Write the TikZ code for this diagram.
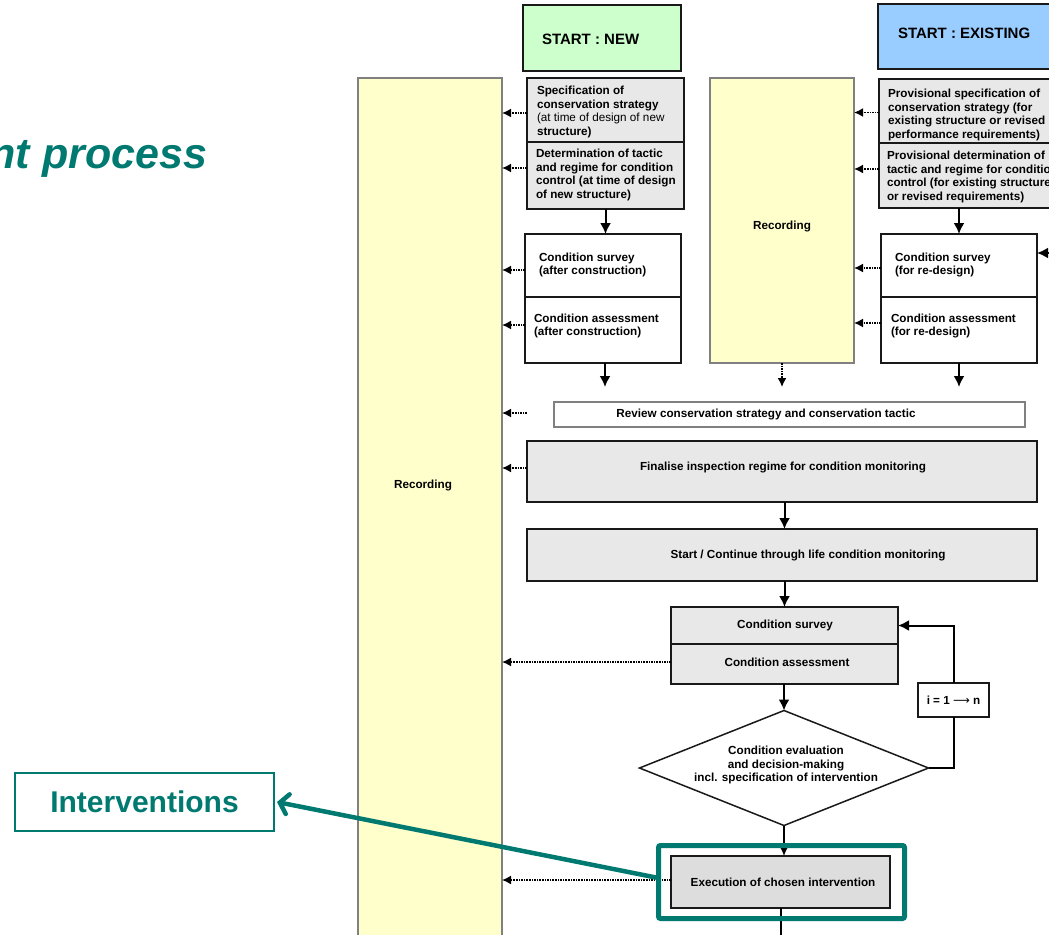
\documentclass[tikz,border=0pt]{standalone}
\usepackage{fontspec}
\setmainfont{Liberation Sans}
\newfontfamily\symfont{DejaVu Sans}
\usetikzlibrary{arrows.meta,shapes.geometric}
\definecolor{recfill}{RGB}{255,255,204}
\definecolor{recline}{RGB}{128,128,128}
\definecolor{boxgray}{RGB}{232,232,232}
\definecolor{execgray}{RGB}{221,221,221}
\definecolor{newgreen}{RGB}{204,255,204}
\definecolor{exblue}{RGB}{153,204,255}
\definecolor{tealc}{RGB}{0,122,112}
\begin{document}
\begin{tikzpicture}[x=1pt,y=-1pt,
  every node/.style={inner sep=0pt, outer sep=0pt},
  body/.style={font=\fontsize{11.7}{13.8}\selectfont\bfseries, text=black},
  txt/.style={body, align=left, anchor=west},
  ctxt/.style={body, align=center},
  rect/.style 2 args={rectangle, anchor=north west, minimum width=#1, minimum height=#2},
  recbox/.style={draw=recline, fill=recfill, line width=1.2pt},
  heavybox/.style={draw=black!90, fill=boxgray, line width=2.2pt},
  plainbox/.style={draw=black!90, fill=white, line width=1.8pt},
  thinbox/.style={draw=recline, fill=white, line width=1.2pt},
  startbox/.style={draw=black!90, line width=2.2pt},
  arr/.style={draw=black, line width=2pt, -{Latex[length=11pt,width=11pt]}},
  darr/.style={draw=black, line width=1.6pt, densely dotted, -{Latex[length=9pt,width=9pt]}},
  flow/.style={draw=black, line width=2pt}
]
\useasboundingbox (0,0) rectangle (1049,934);
\clip (0,0) rectangle (1049,934);

% heading
\node[font=\fontsize{43}{48}\selectfont\bfseries\itshape, text=tealc, anchor=base east] (title) at (207,168) {nt process};

% recording columns
\node[rect={144}{900}, recbox] (recL) at (358,78) {};
\node[body] (recLt) at (423,485) {Recording};
\node[rect={144}{285}, recbox] (recM) at (710,78) {};
\node[body] (recMt) at (782,226) {Recording};

% start boxes
\node[rect={158}{66}, startbox, fill=newgreen] (startN) at (523,5) {};
\node[font=\fontsize{15}{18}\selectfont\bfseries, anchor=west] (startNt) at (542,39) {START : NEW};
\node[rect={200}{65}, startbox, fill=exblue] (startE) at (878,4) {};
\node[font=\fontsize{15}{18}\selectfont\bfseries, anchor=west] (startEt) at (898,33) {START : EXISTING};

% new structure column
\node[rect={157}{64}, heavybox] (spec) at (527,78) {};
\node[txt] (spect) at (537,112) {Specification of\\conservation strategy\\\mdseries (at time of design of new\\structure)};
\node[rect={157}{67}, heavybox] (det) at (527,142) {};
\node[txt] (dett) at (536,175) {Determination of tactic\\and regime for condition\\control (at time of design\\of new structure)};
\node[rect={156}{63}, plainbox] (cs1) at (525,234) {};
\node[txt] (cs1t) at (539,265) {Condition survey\\(after construction)};
\node[rect={156}{66}, plainbox] (ca1) at (525,297) {};
\node[txt] (ca1t) at (534,326) {Condition assessment\\(after construction)};

% existing structure column
\node[rect={200}{64}, heavybox] (exspec) at (879,79) {};
\node[txt] (exspect) at (888,115) {Provisional specification of\\conservation strategy (for\\existing structure or revised\\performance requirements)};
\node[rect={200}{65}, heavybox] (exdet) at (879,143) {};
\node[txt] (exdett) at (887,177) {Provisional determination of\\tactic and regime for condition\\control (for existing structure\\or revised requirements)};
\node[rect={156}{63}, plainbox] (cs2) at (881,234) {};
\node[txt] (cs2t) at (895,265) {Condition survey\\(for re-design)};
\node[rect={156}{66}, plainbox] (ca2) at (881,297) {};
\node[txt] (ca2t) at (891,326) {Condition assessment\\(for re-design)};

% common process
\node[rect={471}{25}, thinbox] (rev) at (554,402) {};
\node[ctxt] (revt) at (766,414) {Review conservation strategy and conservation tactic};
\node[rect={510}{61}, heavybox] (fin) at (527,441) {};
\node[ctxt] (fint) at (783,467) {Finalise inspection regime for condition monitoring};
\node[rect={510}{52}, heavybox] (sc) at (527,529) {};
\node[ctxt] (sct) at (808,555) {Start / Continue through life condition monitoring};
\node[rect={227}{37}, heavybox] (cs3) at (671,607) {};
\node[ctxt] (cs3t) at (785,625) {Condition survey};
\node[rect={227}{40}, heavybox] (ca3) at (671,644) {};
\node[ctxt] (ca3t) at (787,662) {Condition assessment};
\node[diamond, draw=black!90, fill=white, line width=1.5pt, minimum width=289pt, minimum height=115pt] (dia) at (784,768) {};
\node[ctxt] (diat) at (786,765) {Condition evaluation\\and decision-making\\incl. specification of intervention};
\node[rect={71}{34}, draw=black!90, fill=white, line width=1.5pt] (ibox) at (918,683) {};
\node[ctxt] (iboxt) at (953.5,700) {i = 1 {\symfont\mdseries ⟶} n};
\node[rect={219}{52}, heavybox, fill=execgray] (ex) at (671,856) {};
\node[ctxt] (ext) at (783,882) {Execution of chosen intervention};

% free ends of connectors
\coordinate (endN) at (605,387);
\coordinate (endE) at (959,387);
\coordinate (endM) at (782,387);
\coordinate (feed) at (1060,253);
\coordinate (endX) at (781,945);

% main flow
\draw[arr] (det.south) -- (det.south |- cs1.north);
\draw[arr] (ca1.south -| endN) -- (endN);
\draw[arr] (cs2.north |- exdet.south) -- (cs2.north);
\draw[arr] (ca2.south) -- (endE);
\draw[arr] (feed) -- (feed -| cs2.east);
\draw[darr] (recM.south -| endM) -- (endM);
\draw[arr] (cs3.north |- fin.south) -- (cs3.north |- sc.north);
\draw[arr] (cs3.north |- sc.south) -- (cs3.north);
\draw[arr] (ca3.south -| dia.north) -- (dia.north);
\draw[arr] (dia.south) -- (dia.south |- ex.north);
\draw[flow] (ex.south -| endX) -- (endX);

% iteration loop
\draw[flow] (dia.east) -| (ibox.south);
\draw[arr] (ibox.north) |- (cs3.east);

% records passed to the recording columns
\draw[darr] ([yshift=-3pt]spec.west) -- ([yshift=-3pt]spec.west -| recL.east);
\draw[darr] ([yshift=7.5pt]det.west) -- ([yshift=7.5pt]det.west -| recL.east);
\draw[darr] ([yshift=-4.5pt]cs1.west) -- ([yshift=-4.5pt]cs1.west -| recL.east);
\draw[darr] ([yshift=5pt]ca1.west) -- ([yshift=5pt]ca1.west -| recL.east);
\draw[darr] ([yshift=1.5pt]rev.west -| fin.west) -- ([yshift=1.5pt]rev.west -| recL.east);
\draw[darr] ([yshift=3.5pt]fin.west) -- ([yshift=3.5pt]fin.west -| recL.east);
\draw[darr] ([yshift=2pt]ca3.west) -- ([yshift=2pt]ca3.west -| recL.east);
\draw[darr] ([yshift=2pt]ex.west) -- ([yshift=2pt]ex.west -| recL.east);
\draw[darr] ([yshift=-1.5pt]exspec.west) -- ([yshift=-1.5pt]exspec.west -| recM.east);
\draw[darr] ([yshift=6.5pt]exdet.west) -- ([yshift=6.5pt]exdet.west -| recM.east);
\draw[darr] ([yshift=-2.5pt]cs2.west) -- ([yshift=-2.5pt]cs2.west -| recM.east);
\draw[darr] ([yshift=7pt]ca2.west) -- ([yshift=7pt]ca2.west -| recM.east);

% highlighted intervention step
\node[rect={246}{73}, draw=tealc, line width=5pt, rounded corners=2pt] (hl) at (658.5,845.5) {};
\node[draw=tealc, line width=2pt, minimum width=259pt, minimum height=58pt, text=tealc, font=\fontsize{30}{36}\selectfont\bfseries] (iv) at (144.5,802) {Interventions};
\draw[tealc, line width=4.5pt, line cap=round, -{Straight Barb[length=8pt,width=20pt,line cap=round]}] ([yshift=4pt]hl.west) -- ([xshift=3pt]iv.east);
\end{tikzpicture}
\end{document}
